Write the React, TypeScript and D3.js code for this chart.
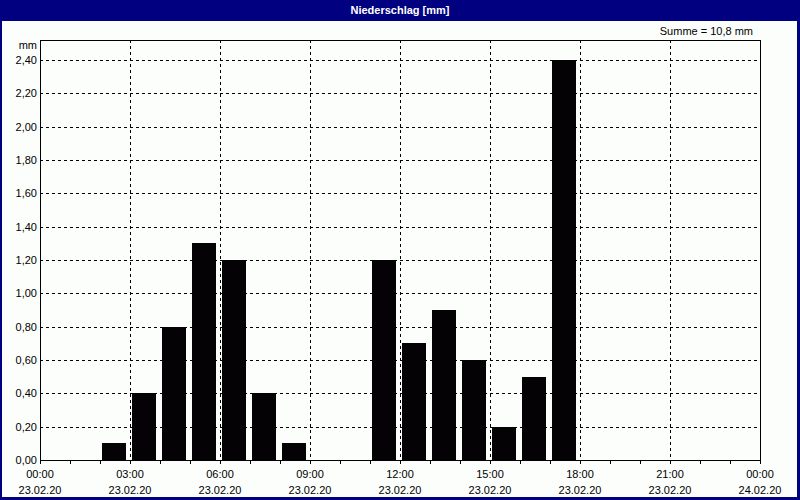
import React from "react";
import * as d3 from "d3";

const hours = [0, 1, 2, 3, 4, 5, 6, 7, 8, 9, 10, 11, 12, 13, 14, 15, 16, 17, 18, 19, 20, 21, 22, 23];
const values = [0, 0, 0.1, 0.4, 0.8, 1.3, 1.2, 0.4, 0.1, 0, 0, 1.2, 0.7, 0.9, 0.6, 0.2, 0.5, 2.4, 0, 0, 0, 0, 0, 0];
const yTicks = [0, 0.2, 0.4, 0.6, 0.8, 1.0, 1.2, 1.4, 1.6, 1.8, 2.0, 2.2, 2.4];
const xMajor = [0, 3, 6, 9, 12, 15, 18, 21, 24];
const xTimeLabels = ["00:00", "03:00", "06:00", "09:00", "12:00", "15:00", "18:00", "21:00", "00:00"];
const xDateLabels = ["23.02.20", "23.02.20", "23.02.20", "23.02.20", "23.02.20", "23.02.20", "23.02.20", "23.02.20", "24.02.20"];
const title = "Niederschlag [mm]";
const sumLabel = "Summe = 10,8 mm";
const unitLabel = "mm";

const W = 800, H = 500;
const font = "Tahoma, 'Liberation Sans', Arial, sans-serif";

export default function App() {
  const x = d3.scaleLinear().domain([0, 24]).range([40, 760]);
  const y = d3.scaleLinear().domain([0, 2.52]).range([460, 40]);
  const fmt = (v: number) => d3.format(".2f")(v).replace(".", ",");
  const minor = d3.range(0, 25);
  return (
    <svg width={W} height={H} style={{ position: "absolute", left: 0, top: 0, display: "block" }}
      fontFamily={font} shapeRendering="crispEdges">
      <rect x={0} y={0} width={W} height={H} fill="#000080" />
      <rect x={2} y={21} width={W - 5} height={H - 24} fill="#fcfefc" />
      <text x={400} y={14} textAnchor="middle" fill="#fff" fontSize={11} fontWeight="bold">{title}</text>
      <text x={753} y={35} textAnchor="end" fontSize={11} fill="#000">{sumLabel}</text>
      <text x={37} y={49} textAnchor="end" fontSize={11} fill="#000">{unitLabel}</text>
      {/* horizontal grid */}
      {yTicks.filter(v => v > 0).map(v => (
        <line key={"h" + v} x1={40} x2={760} y1={Math.round(y(v)) + 0.5} y2={Math.round(y(v)) + 0.5}
          stroke="#000" strokeDasharray="3,3" />
      ))}
      {/* vertical grid */}
      {xMajor.filter(h => h > 0 && h < 24).map(h => (
        <line key={"v" + h} x1={x(h) + 0.5} x2={x(h) + 0.5} y1={40} y2={460}
          stroke="#000" strokeDasharray="3,3" />
      ))}
      {/* bars */}
      {hours.map((h, i) => values[i] > 0 ? (
        <rect key={"b" + h} x={x(h) + 2} width={24} y={Math.round(y(values[i]))}
          height={460 - Math.round(y(values[i]))} fill="#040204" />
      ) : null)}
      {/* frame */}
      <rect x={40.5} y={40.5} width={720} height={420} fill="none" stroke="#000" />
      {/* minor ticks */}
      {minor.map(h => (
        <line key={"t" + h} x1={x(h) + 0.5} x2={x(h) + 0.5} y1={460} y2={464} stroke="#000" />
      ))}
      {/* y labels */}
      {yTicks.map(v => (
        <text key={"yl" + v} x={37} y={y(v) + 4} textAnchor="end" fontSize={11} fill="#000">{fmt(v)}</text>
      ))}
      {/* x labels */}
      {xMajor.map((h, i) => (
        <g key={"xl" + h}>
          <text x={x(h)} y={478} textAnchor="middle" fontSize={11} fill="#000">{xTimeLabels[i]}</text>
          <text x={x(h)} y={494} textAnchor="middle" fontSize={11} fill="#000">{xDateLabels[i]}</text>
        </g>
      ))}
    </svg>
  );
}
